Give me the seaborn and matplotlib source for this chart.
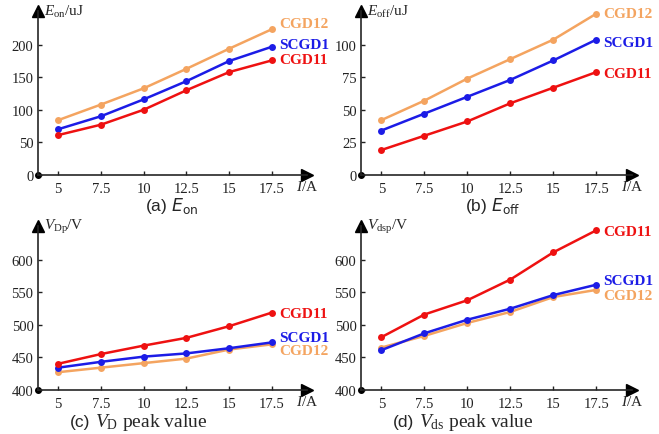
import pandas as pd
import matplotlib
matplotlib.use("Agg")
import matplotlib.pyplot as plt
import seaborn as sns

sns.set_style("ticks")
plt.rcParams["font.family"] = ["Liberation Serif", "DejaVu Serif"]
plt.rcParams["mathtext.fontset"] = "custom"
plt.rcParams["mathtext.rm"] = "Liberation Serif"
plt.rcParams["mathtext.it"] = "Liberation Serif:italic"
plt.rcParams["mathtext.bf"] = "Liberation Serif:bold"

# === DATA ===
current = [5, 7.5, 10, 12.5, 15, 17.5]
series = ["CGD12", "SCGD1", "CGD11"]

eon_cgd12 = [84, 108, 133, 163, 194, 224]
eon_scgd1 = [70, 90, 116, 144, 175, 197]
eon_cgd11 = [61, 77, 100, 130, 158, 176]

eoff_cgd12 = [42, 57, 74, 89, 104, 124]
eoff_scgd1 = [34, 47, 60, 73, 88, 104]
eoff_cgd11 = [19, 30, 41, 55, 67, 79]

vd_cgd12 = [427, 434, 441, 448, 462, 470]
vd_scgd1 = [434, 443, 451, 456, 464, 473]
vd_cgd11 = [440, 455, 468, 480, 498, 519]

vds_cgd12 = [465, 483, 503, 520, 543, 554]
vds_scgd1 = [461, 487, 508, 525, 546, 562]
vds_cgd11 = [481, 516, 538, 570, 612, 646]

colors = {"CGD12": "#f4a460", "SCGD1": "#1c1ce6", "CGD11": "#ee1111"}


def long_frame(cgd12, scgd1, cgd11):
    parts = []
    for name, vals in zip(series, [cgd12, scgd1, cgd11]):
        parts.append(pd.DataFrame({"I": current, "val": vals, "series": name}))
    return pd.concat(parts, ignore_index=True)


W, H = 659, 435
fig = plt.figure(figsize=(W / 100, H / 100), dpi=100)


def px_axes(left, axis_y, right, top):
    return fig.add_axes([left / W, 1 - axis_y / H, (right - left) / W, (axis_y - top) / H])


def draw_panel(ax, df, ylim, yticks, ylabel, label_y):
    sns.lineplot(data=df, x="I", y="val", hue="series", palette=colors, marker="o",
                 markersize=5, markeredgewidth=0, linewidth=1.8, legend=False, ax=ax)
    ax.set_xlim(3.8, 19.55)
    ax.set_ylim(*ylim)
    ax.set_xticks(current)
    ax.set_xticklabels(["5", "7.5", "10", "12.5", "15", "17.5"])
    ax.set_yticks(yticks)
    ax.set_xlabel("")
    ax.set_ylabel("")
    sns.despine(ax=ax)
    for s in ["left", "bottom"]:
        ax.spines[s].set_linewidth(1.2)
    ax.tick_params(direction="in", length=3, width=1, labelsize=10.5, colors="#222222", pad=3)
    ax.tick_params(axis="x", pad=5)
    # arrows and origin dot
    ax.plot(1, 0, ">k", ms=8, transform=ax.transAxes, clip_on=False)
    ax.plot(0, 1, "^k", ms=8, transform=ax.transAxes, clip_on=False)
    ax.plot(0, 0, "ok", ms=4, transform=ax.transAxes, clip_on=False)
    ax.text(0.025, 1.0, ylabel, transform=ax.transAxes, fontsize=11, va="center", ha="left")
    ax.text(0.96, -0.07, r"$I$/A", transform=ax.transAxes, fontsize=11, va="center", ha="left")
    for name in series:
        ax.annotate(name, xy=(17.5, label_y[name]), xytext=(5, 0), textcoords="offset points",
                    va="center", ha="left", fontsize=11, fontweight="bold", color=colors[name],
                    annotation_clip=False)


ax_a = px_axes(37.7, 175.7, 307, 12)
draw_panel(ax_a, long_frame(eon_cgd12, eon_scgd1, eon_cgd11), (0, 252), [0, 50, 100, 150, 200],
           r"$E_{\rm on}$/uJ", {"CGD12": 232, "SCGD1": 201, "CGD11": 177})

ax_b = px_axes(360.7, 175.7, 631.7, 12)
draw_panel(ax_b, long_frame(eoff_cgd12, eoff_scgd1, eoff_cgd11), (0, 126), [0, 25, 50, 75, 100],
           r"$E_{\rm off}$/uJ", {"CGD12": 124, "SCGD1": 102, "CGD11": 78})

ax_c = px_axes(37.7, 390.7, 307, 226.7)
draw_panel(ax_c, long_frame(vd_cgd12, vd_scgd1, vd_cgd11), (400, 653), [400, 450, 500, 550, 600],
           r"$V_{\rm Dp}$/V", {"CGD12": 460, "SCGD1": 481, "CGD11": 518})

ax_d = px_axes(360.7, 390.7, 631.7, 226.7)
draw_panel(ax_d, long_frame(vds_cgd12, vds_scgd1, vds_cgd11), (400, 653), [400, 450, 500, 550, 600],
           r"$V_{\rm dsp}$/V", {"CGD12": 546, "SCGD1": 568, "CGD11": 644})

# subplot captions
sans = ["Liberation Sans", "DejaVu Sans"]
fig.text(172 / W, 1 - 206 / H, r"(a) $E_{\rm on}$", family=sans, fontsize=12.5,
         ha="center", va="center", math_fontfamily="dejavusans")
fig.text(493 / W, 1 - 206 / H, r"(b) $E_{\rm off}$", family=sans, fontsize=12.5,
         ha="center", va="center", math_fontfamily="dejavusans")
fig.text(90 / W, 1 - 423 / H, "(c)", family=sans, fontsize=12.5, ha="right", va="center")
fig.text(95 / W, 1 - 423 / H, r"$V_{\rm D}$ peak value", fontsize=14, ha="left", va="center")
fig.text(414 / W, 1 - 423 / H, "(d)", family=sans, fontsize=12.5, ha="right", va="center")
fig.text(419 / W, 1 - 423 / H, r"$V_{\rm ds}$ peak value", fontsize=14, ha="left", va="center")

fig.savefig("out.png", dpi=100)
